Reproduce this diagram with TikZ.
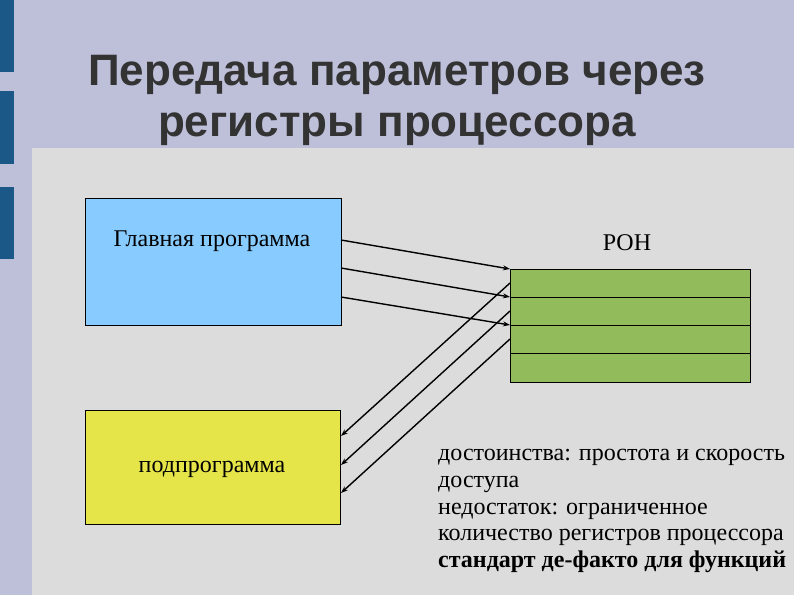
\documentclass[tikz,border=0pt]{standalone}
\usepackage{fontspec}
\setmainfont{Liberation Serif}
\newfontfamily\titlefont{Liberation Sans}
\usetikzlibrary{arrows.meta}
\definecolor{bgl}{HTML}{BEBFD9}
\definecolor{panel}{HTML}{DCDCDC}
\definecolor{bar}{HTML}{1B5787}
\definecolor{bluebox}{HTML}{87CBFF}
\definecolor{yelbox}{HTML}{E5E54A}
\definecolor{grn}{HTML}{92BB5B}
\definecolor{ttl}{HTML}{333333}
\tikzset{
 box/.style={draw=black, line width=0.9pt},
 arr/.style={-{Stealth[length=7pt,width=5pt]}, line width=1.4pt},
 body/.style={font=\fontsize{24}{28}\selectfont, inner sep=0pt}
}
\begin{document}
\begin{tikzpicture}[x=1pt,y=-1pt]
\useasboundingbox (0,0) rectangle (794,595);
\fill[bgl] (0,0) rectangle (794,595);
\fill[panel] (32,148) rectangle (794,595);
\foreach \a/\b in {0/72,91/164,187/259}
  \fill[bar] (0,\a) rectangle (14,\b);
\node[font=\titlefont\bfseries\fontsize{44}{51}\selectfont, text=ttl, align=center] (title) at (397,100) {Передача параметров через\\регистры процессора};
\node[box, fill=bluebox, minimum width=256pt, minimum height=127pt, anchor=north west] (main) at (85,198) {};
\node[body] (mainlbl) at (212,241) {Главная программа};
\node[box, fill=yelbox, minimum width=255pt, minimum height=114pt, anchor=north west] (sub) at (85,410) {};
\node[body] (sublbl) at (212,469) {подпрограмма};
\node[box, fill=grn, minimum width=240pt, minimum height=113pt, anchor=north west] (ron) at (510,269) {};
\draw[line width=0.9pt] (510,297) -- (750,297) (510,325) -- (750,325) (510,353) -- (750,353);
\node[body] (ronlbl) at (627,243) {РОН};
\coordinate (m1) at (341,240); \coordinate (m2) at (341,268); \coordinate (m3) at (341,297);
\coordinate (r1) at (510,269); \coordinate (r2) at (510,297); \coordinate (r3) at (510,325);
\coordinate (q1) at (510,283); \coordinate (q2) at (510,311); \coordinate (q3) at (510,339);
\coordinate (s1) at (341,436); \coordinate (s2) at (341,465); \coordinate (s3) at (341,493);
\draw[arr] (m1) -- (r1); \draw[arr] (m2) -- (r2); \draw[arr] (m3) -- (r3);
\draw[arr] (q1) -- (s1); \draw[arr] (q2) -- (s2); \draw[arr] (q3) -- (s3);
\node[body, anchor=north west, align=left, font=\fontsize{24}{26.8}\selectfont] (notes) at (438,449)
 {достоинства: простота и скорость\\доступа\\недостаток: ограниченное\\количество регистров процессора\\\textbf{стандарт де-факто для функций}};
\end{tikzpicture}
\end{document}
